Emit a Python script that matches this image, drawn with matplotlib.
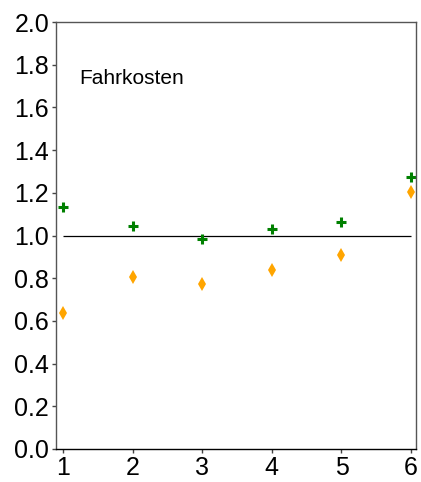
import numpy as np
import matplotlib.pyplot as plt

plt.rcParams['font.family'] = ['Liberation Sans', 'DejaVu Sans']

# Daten
x = [1, 2, 3, 4, 5, 6]
gruen = [1.133, 1.044, 0.984, 1.030, 1.063, 1.274]
orange = [0.637, 0.806, 0.773, 0.838, 0.909, 1.204]
yticks = [0.0, 0.2, 0.4, 0.6, 0.8, 1.0, 1.2, 1.4, 1.6, 1.8, 2.0]

fig = plt.figure(figsize=(4.21, 4.82), dpi=100)
ax = fig.add_axes([56/421, 1 - 449/482, 360/421, 427/482])

ax.hlines(1.0, 1, 6, color='black', lw=0.9)
ax.plot(x, gruen, '+', color='#008000', ms=7, mew=2.2)
ax.plot(x, orange, 'd', color='orange', ms=7, mew=0)

ax.set_xlim(0.9, 6.07)
ax.set_ylim(0, 2.0)
ax.set_xticks(x)
ax.set_yticks(yticks)
ax.set_yticklabels([f'{v:.1f}' for v in yticks])
ax.tick_params(labelsize=18, length=3, width=1, pad=2, color='#444444')
for s in ax.spines.values():
    s.set_color('#555555')
    s.set_linewidth(1)
ax.spines['bottom'].set_color('black')
ax.text(1.24, 1.735, 'Fahrkosten', fontsize=15, va='center')

fig.savefig('out.png', dpi=100)
